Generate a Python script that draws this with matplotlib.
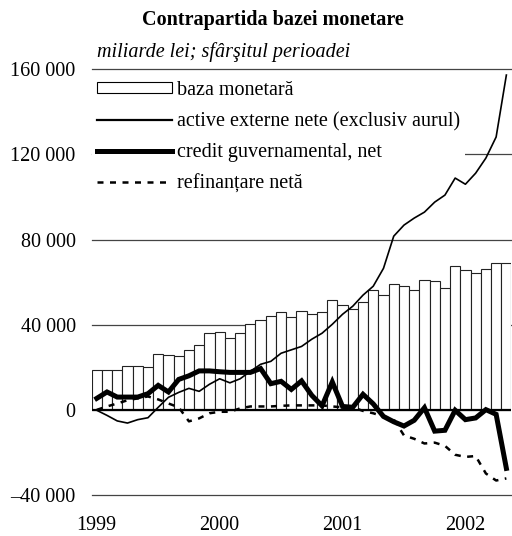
import numpy as np
import matplotlib
matplotlib.use('Agg')
import matplotlib.pyplot as plt
from matplotlib.patches import Patch
from matplotlib.lines import Line2D

# monthly, Jan 1999 .. May 2002 (mld. lei, end of period)
years = ['1999', '2000', '2001', '2002']
baza = [18900, 18900, 18600, 20450, 20780, 20150, 26400, 25600, 25500, 28000,
        30500, 36000, 36600, 33950, 36100, 40500, 42100, 44100, 46000, 43650,
        46300, 45200, 45850, 51500, 49450, 47600, 50900, 56500, 54000, 59000,
        58200, 56500, 61200, 60400, 57300, 67700, 65900, 64500, 66400, 69200,
        69000]
active = [-200, -2600, -5200, -6200, -4600, -3700, 1200, 5900, 8200, 10100,
          8700, 12000, 14600, 12700, 14600, 18100, 21400, 22800, 26600, 28200,
          29800, 33200, 36000, 40200, 44900, 48700, 53900, 58100, 66500, 81600,
          86800, 90100, 92900, 97600, 100900, 108900, 106000, 111200, 118300,
          128200, 157300]
credit = [5400, 8400, 6000, 6000, 6000, 7600, 11500, 8400, 14300, 16000,
          18300, 18300, 17900, 17600, 17600, 17600, 19400, 12300, 13400, 9600,
          13600, 6800, 1900, 13100, 1600, 1200, 7300, 2800, -3100, -5600,
          -7600, -4900, 1000, -10000, -9600, -200, -4600, -3800, 100, -2100,
          -27500]
refi = [0, 1600, 3000, 4500, 5400, 6300, 4900, 3000, 1200, -5400,
        -4000, -1600, -900, -900, 700, 1600, 1600, 1600, 1900, 2100,
        2100, 2100, 2100, 1600, 1200, 1200, -500, -1600, -3100, -4500,
        -12000, -13600, -15800, -15400, -16900, -21100, -22100, -21700, -29900,
        -33200, -32200]
yticks = [-40000, 0, 40000, 80000, 120000, 160000]
ytick_labels = ['\u201340 000', '0', '40 000', '80 000', '120 000', '160 000']

plt.rcParams['font.family'] = ['Liberation Serif', 'DejaVu Serif']
FS = 14.5

fig = plt.figure(figsize=(5.12, 5.36), dpi=100)
ax = fig.add_axes([0.179, 0.0765, 0.820, 0.7942])

x = np.arange(len(baza))
for v in yticks:
    if v != 0:
        ax.axhline(v, color='#444444', lw=0.9, zorder=0, clip_on=False)

ax.bar(x, baza, width=1.0, color='white', edgecolor='#222222', lw=0.8, zorder=1)
ax.axhline(0, color='black', lw=1.6, zorder=2)
ax.plot(x, refi, color='black', lw=1.8, ls=(0, (2.4, 2.6)), zorder=3)
ax.plot(x, active, color='black', lw=1.2, zorder=4)
ax.plot(x, credit, color='black', lw=3.6, zorder=5, solid_joinstyle='miter')

ax.set_xlim(-0.5, len(baza) - 0.5)
ax.set_ylim(-40000, 160000)
ax.set_yticks(yticks)
ax.set_yticklabels(ytick_labels, fontsize=FS)
ax.set_xticks([0, 12, 24, 36])
ax.set_xticklabels(years, fontsize=FS)
ax.tick_params(axis='y', length=0, pad=11.5)
ax.tick_params(axis='x', length=0, pad=15)
for s in ax.spines.values():
    s.set_visible(False)

handles = [Patch(facecolor='white', edgecolor='black', lw=0.8),
           Line2D([], [], color='black', lw=1.6),
           Line2D([], [], color='black', lw=3.6),
           Line2D([], [], color='black', lw=1.8, ls=(0, (2.4, 2.6)))]
labels = ['baza monetară', 'active externe nete (exclusiv aurul)',
          'credit guvernamental, net', 'refinanțare netă']
leg = ax.legend(handles, labels, loc='upper left', bbox_to_anchor=(0.0, 0.985),
                fontsize=FS, frameon=True, fancybox=False, borderaxespad=0,
                borderpad=0.25, handlelength=3.75, handleheight=0.45,
                handletextpad=0.25, labelspacing=0.6)
leg.get_frame().set_facecolor('white')
leg.get_frame().set_edgecolor('none')
leg.get_frame().set_alpha(1)
# above the gridlines, below the series lines
leg.set_zorder(2.5)

fig.text(0.533, 0.962, 'Contrapartida bazei monetare', fontsize=FS,
         fontweight='bold', ha='center', va='center')
fig.text(0.189, 0.903, 'miliarde lei; sfârşitul perioadei', fontsize=FS,
         fontstyle='italic', ha='left', va='center')

fig.savefig('out.png', dpi=100)
